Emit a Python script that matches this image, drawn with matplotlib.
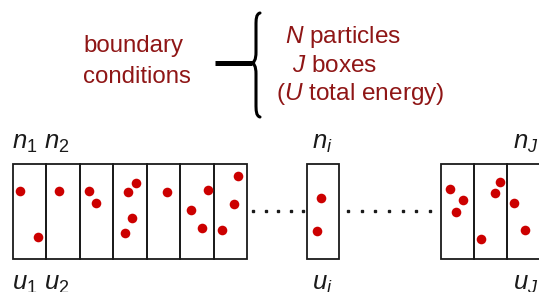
import numpy as np
import matplotlib.pyplot as plt
from matplotlib.path import Path
from matplotlib.patches import PathPatch, Rectangle

plt.rcParams['font.family'] = ['Liberation Sans', 'DejaVu Sans']
plt.rcParams['mathtext.fontset'] = 'custom'
plt.rcParams['mathtext.it'] = 'Liberation Sans:italic'
plt.rcParams['mathtext.rm'] = 'Liberation Sans'

# particle positions (pixel coords, y down)
left_x = [20, 38.3, 58.7, 89.3, 96, 136, 127.7, 132, 124.7, 167.3, 207.7, 191, 202.3, 238, 234, 221.7]
left_y = [190.7, 236.7, 190.7, 190.7, 203.3, 182.7, 192, 218.3, 233.3, 192.3, 190.3, 210, 228.3, 176, 204.3, 229.7]
mid_x = [320.7, 316.7]
mid_y = [198.3, 230.7]
right_x = [450.3, 463.3, 456.3, 500, 494.7, 481.3, 514, 525]
right_y = [188.7, 200.3, 212, 182, 192.7, 238.7, 203.3, 229.7]

# box groups: (left edge, box width, number of boxes)
groups = [(12.5, 33.5, 7), (306.7, 32.5, 1), (441, 33, 4)]
top_labels = [r'$n_1\ n_2$', r'$n_i$', r'$n_J$']
bottom_labels = [r'$u_1\ u_2$', r'$u_i$', r'$u_J$']
label_x = [12.5, 311.5, 513]
rhs_lines = [r'$N$ particles', r'$J$ boxes', r'($U$ total energy)']

red = '#cc0000'
dark_red = '#8f1616'
ink = '#1a1a1a'

fig = plt.figure(figsize=(5.39, 2.92), dpi=100)
ax = fig.add_axes([0, 0, 1, 1])
ax.set_xlim(0, 539)
ax.set_ylim(292, 0)
ax.axis('off')

y_top, y_bot = 163.5, 259.3
for (x0, w, n) in groups:
    for k in range(n):
        ax.add_patch(Rectangle((x0 + k * w, y_top), w, y_bot - y_top,
                               fill=False, ec=ink, lw=1.3))

for xs, ys in [(left_x, left_y), (mid_x, mid_y), (right_x, right_y)]:
    ax.scatter(xs, ys, s=48, color=red, zorder=3, linewidths=0)

# dotted connectors
ax.plot(np.linspace(253, 303, 5), [211] * 5, 's', color=ink, ms=2)
ax.plot(np.linspace(348, 430, 7), [211] * 7, 's', color=ink, ms=2)

# labels above / below boxes
for x, t, b in zip(label_x, top_labels, bottom_labels):
    ax.text(x, 149, t, fontsize=18.5, va='baseline', ha='left', color=ink)
    ax.text(x, 290, b, fontsize=18.5, va='baseline', ha='left', color=ink)

# boundary conditions text
ax.text(83, 52, 'boundary', fontsize=17.3, color=dark_red, va='baseline')
ax.text(83, 83, 'conditions', fontsize=17.3, color=dark_red, va='baseline')

rhs_x = [285, 291.5, 276.5]
rhs_y = [43, 72, 100]
for x, y, s in zip(rhs_x, rhs_y, rhs_lines):
    ax.text(x, y, s, fontsize=17.6, color=dark_red, va='baseline')

# brace
ax.plot([215, 252], [63, 63], color='black', lw=3.6, solid_capstyle='butt')
verts = [(260, 13), (256, 14), (256, 20), (256, 25),
         (256, 52),
         (256, 60), (254, 63), (251, 63),
         (254, 63), (256, 66), (256, 74),
         (256, 104),
         (256, 110), (256, 116), (260, 117)]
codes = [Path.MOVETO, Path.CURVE4, Path.CURVE4, Path.CURVE4,
         Path.LINETO,
         Path.CURVE4, Path.CURVE4, Path.CURVE4,
         Path.CURVE4, Path.CURVE4, Path.CURVE4,
         Path.LINETO,
         Path.CURVE4, Path.CURVE4, Path.CURVE4]
ax.add_patch(PathPatch(Path(verts, codes), fill=False, lw=2.2, ec='black',
                       capstyle='round'))

fig.savefig('out.png', dpi=100)
